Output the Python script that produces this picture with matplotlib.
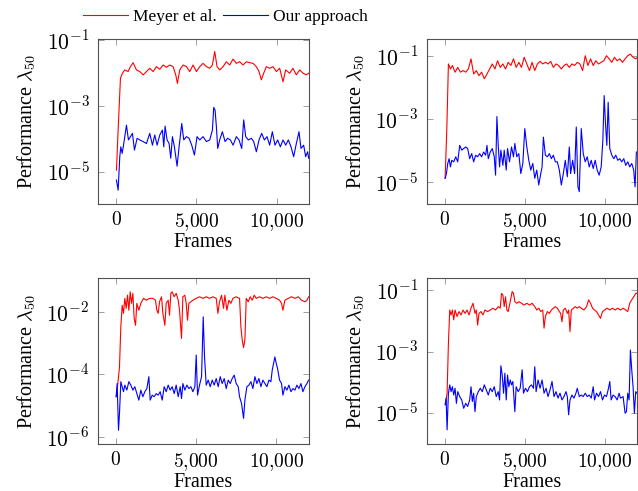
import numpy as np
import matplotlib.pyplot as plt
from matplotlib.lines import Line2D

plt.rcParams['font.family'] = 'serif'
plt.rcParams['font.serif'] = ['Liberation Serif', 'DejaVu Serif']
plt.rcParams['mathtext.fontset'] = 'cm'

# values: frame index and log10 of lambda_50

# --- panel 1 (top left)
f_meyer1 = [21, 125, 270, 394, 540, 747, 893, 1059, 1266, 1474, 1682, 1889, 2097, 2304, 2512, 2720,
            2927, 3135, 3342, 3550, 3716, 3820, 3965, 4173, 4380, 4588, 4796, 5003, 5211, 5418, 5626,
            5834, 6000, 6145, 6290, 6456, 6664, 6872, 7079, 7287, 7494, 7702, 7910, 8117, 8325, 8532,
            8740, 8906, 9051, 9197, 9363, 9570, 9778, 9986, 10193, 10401, 10567, 10816, 11023, 11231,
            11439, 11646, 11854, 12000]
l_meyer1 = [-4.95, -3.73, -2.15, -2.0, -1.9, -1.95, -1.80, -1.68, -1.90, -1.95, -2.05, -1.95, -1.85,
            -1.95, -1.80, -1.88, -1.75, -1.82, -1.75, -1.80, -2.05, -2.31, -1.90, -1.75, -1.80, -1.95,
            -1.75, -1.95, -1.80, -1.70, -1.80, -1.85, -1.75, -1.34, -1.80, -1.90, -1.80, -1.65, -1.75,
            -1.57, -1.70, -1.65, -1.75, -1.65, -1.68, -1.70, -1.80, -1.95, -2.20, -2.0, -1.80, -1.85,
            -1.80, -1.95, -1.85, -2.26, -1.90, -2.0, -1.85, -2.05, -1.90, -2.0, -2.05, -2.0]
f_ours1 = [21, 125, 228, 291, 374, 477, 644, 768, 893, 1017, 1142, 1308, 1474, 1682, 1889, 2097, 2263,
           2408, 2554, 2720, 2886, 2969, 3052, 3176, 3301, 3405, 3508, 3633, 3799, 3924, 4090, 4214,
           4380, 4546, 4713, 4879, 5045, 5211, 5418, 5626, 5834, 6000, 6083, 6166, 6249, 6332, 6456,
           6622, 6789, 6955, 7121, 7287, 7494, 7660, 7827, 7951, 8076, 8242, 8429, 8574, 8740, 8906,
           9072, 9238, 9404, 9570, 9736, 9902, 10068, 10235, 10401, 10567, 10733, 10899, 11065, 11231,
           11397, 11522, 11688, 11812, 11937, 12000]
l_ours1 = [-5.25, -5.56, -4.54, -4.24, -4.44, -4.14, -3.58, -4.03, -3.93, -3.83, -4.34, -3.98, -4.03,
           -4.08, -4.14, -3.83, -4.19, -3.88, -4.19, -3.88, -3.73, -4.24, -3.61, -4.03, -4.14, -4.59,
           -3.93, -4.24, -4.83, -4.24, -3.53, -4.03, -3.93, -3.98, -4.19, -4.49, -3.93, -4.03, -3.93,
           -4.08, -4.03, -3.73, -3.04, -3.12, -3.63, -4.29, -4.03, -3.78, -4.08, -3.98, -4.03, -4.19,
           -3.93, -4.03, -4.29, -3.42, -3.93, -4.03, -3.98, -4.08, -4.39, -4.03, -3.83, -4.03, -3.93,
           -4.19, -3.78, -4.19, -4.03, -4.24, -4.03, -4.19, -4.03, -4.24, -4.54, -4.14, -3.78, -4.29,
           -4.19, -4.54, -4.39, -4.59]

# --- panel 2 (top right)
f_meyer2 = [21, 125, 228, 353, 477, 644, 810, 976, 1142, 1308, 1474, 1640, 1806, 1972, 2138, 2304,
            2470, 2637, 2803, 2969, 3135, 3301, 3467, 3633, 3799, 3965, 4131, 4297, 4463, 4629, 4796,
            4962, 5128, 5294, 5460, 5626, 5792, 5958, 6124, 6290, 6456, 6622, 6789, 6955, 7121, 7287,
            7453, 7619, 7785, 7951, 8117, 8283, 8449, 8615, 8781, 8948, 9114, 9280, 9446, 9612, 9778,
            9944, 10110, 10276, 10442, 10608, 10774, 10941, 11107, 11273, 11439, 11605, 11771, 11937,
            12000]
l_meyer2 = [-4.87, -3.36, -1.26, -1.42, -1.31, -1.52, -1.37, -1.52, -1.47, -1.52, -1.42, -1.10, -1.58,
            -1.47, -1.63, -1.52, -1.73, -1.58, -1.42, -1.26, -1.42, -1.16, -1.37, -1.26, -1.42, -1.21,
            -1.31, -1.10, -1.37, -1.21, -1.37, -1.05, -1.26, -1.47, -1.21, -1.47, -1.26, -1.18, -1.26,
            -1.21, -1.26, -1.18, -1.37, -1.26, -1.31, -1.42, -1.31, -1.26, -1.37, -1.26, -1.31, -1.21,
            -1.26, -1.47, -1.0, -1.31, -1.10, -1.31, -1.16, -1.26, -1.21, -1.16, -1.0, -1.10, -1.21,
            -1.05, -1.16, -1.10, -1.21, -1.10, -1.0, -0.95, -1.05, -1.10, -1.07]
f_ours2 = [21, 104, 187, 270, 353, 436, 560, 685, 810, 934, 1059, 1183, 1308, 1433, 1557, 1682, 1806,
           1931, 2055, 2180, 2304, 2429, 2554, 2637, 2720, 2844, 2969, 3094, 3176, 3259, 3342, 3425,
           3508, 3633, 3716, 3841, 3924, 4048, 4173, 4297, 4380, 4505, 4629, 4754, 4879, 5003, 5128,
           5253, 5377, 5502, 5626, 5751, 5875, 6000, 6083, 6166, 6290, 6415, 6539, 6664, 6789, 6913,
           7038, 7162, 7287, 7411, 7536, 7660, 7785, 7868, 7993, 8117, 8221, 8325, 8408, 8532, 8657,
           8781, 8906, 9031, 9155, 9280, 9404, 9529, 9653, 9778, 9882, 9965, 10048, 10131, 10214,
           10317, 10442, 10567, 10691, 10816, 10941, 11065, 11190, 11314, 11439, 11563, 11688, 11812,
           11895, 11978]
l_ours2 = [-4.87, -4.72, -4.40, -4.25, -4.51, -4.30, -4.35, -4.19, -4.35, -3.83, -3.98, -3.93, -3.88,
           -3.93, -4.25, -4.09, -4.35, -4.14, -4.19, -4.09, -4.19, -4.04, -4.14, -3.83, -4.25, -4.04,
           -3.93, -4.19, -4.77, -2.92, -3.83, -4.51, -3.98, -4.46, -3.98, -4.61, -3.93, -4.35, -3.88,
           -4.19, -3.77, -4.19, -4.09, -4.72, -4.40, -3.30, -3.88, -4.30, -4.61, -4.40, -4.87, -4.61,
           -5.08, -4.72, -4.51, -3.57, -4.14, -4.19, -4.09, -4.25, -4.14, -4.35, -4.35, -4.61, -5.08,
           -4.72, -4.30, -4.82, -3.88, -4.72, -4.30, -4.72, -3.25, -5.14, -5.29, -3.30, -4.09, -4.35,
           -4.19, -4.51, -4.30, -4.56, -4.30, -4.61, -4.77, -4.51, -3.67, -2.26, -3.15, -3.83, -2.47,
           -3.93, -4.14, -4.25, -4.14, -4.30, -4.25, -4.35, -4.25, -4.46, -4.35, -4.51, -4.40, -4.61,
           -5.14, -4.04]

# --- panel 3 (bottom left)
f_meyer3 = [21, 125, 228, 311, 394, 477, 560, 644, 727, 810, 893, 976, 1059, 1142, 1225, 1308, 1432,
            1557, 1723, 1889, 2097, 2304, 2470, 2554, 2637, 2720, 2844, 2927, 3052, 3135, 3259, 3342,
            3425, 3508, 3633, 3757, 3882, 3965, 4090, 4173, 4297, 4380, 4463, 4546, 4671, 4796, 5003,
            5211, 5418, 5626, 5834, 6041, 6249, 6353, 6456, 6581, 6705, 6789, 6913, 7038, 7162, 7287,
            7494, 7702, 7785, 7868, 7951, 8034, 8117, 8242, 8366, 8491, 8615, 8740, 8948, 9155, 9363,
            9570, 9778, 9986, 10193, 10317, 10401, 10525, 10733, 10941, 11148, 11356, 11563, 11771,
            11896, 12000]
l_meyer3 = [-4.71, -4.29, -3.76, -2.48, -1.79, -2.05, -1.57, -1.89, -1.47, -1.95, -1.36, -1.73, -1.41,
            -2.21, -2.43, -1.73, -1.95, -1.73, -1.57, -1.63, -1.57, -1.57, -1.63, -1.95, -2.05, -1.68,
            -1.52, -2.05, -2.43, -1.73, -1.63, -2.11, -1.41, -1.36, -1.52, -1.41, -1.63, -1.95, -2.85,
            -1.52, -1.47, -1.73, -2.27, -1.73, -1.68, -1.63, -1.57, -1.52, -1.57, -1.52, -1.57, -1.52,
            -1.57, -2.05, -1.68, -1.47, -1.89, -1.47, -1.95, -1.63, -1.73, -1.57, -1.52, -1.57, -2.48,
            -2.90, -3.14, -2.90, -1.57, -1.68, -1.52, -1.63, -1.47, -1.57, -1.52, -1.57, -1.52, -1.57,
            -1.52, -1.57, -1.63, -1.73, -1.95, -1.63, -1.57, -1.52, -1.57, -1.52, -1.63, -1.68, -1.63,
            -1.52]
f_ours3 = [21, 83, 166, 228, 311, 394, 477, 560, 685, 810, 934, 1059, 1183, 1308, 1432, 1557, 1682,
           1806, 1931, 2055, 2138, 2263, 2387, 2512, 2637, 2761, 2886, 3010, 3135, 3259, 3384, 3508,
           3633, 3757, 3882, 4007, 4090, 4173, 4297, 4421, 4546, 4671, 4796, 4920, 5003, 5086, 5211,
           5336, 5439, 5522, 5626, 5751, 5875, 6000, 6124, 6249, 6373, 6498, 6622, 6747, 6872, 6996,
           7121, 7245, 7370, 7494, 7619, 7702, 7827, 7951, 8034, 8159, 8283, 8408, 8532, 8657, 8781,
           8906, 9031, 9155, 9280, 9404, 9529, 9653, 9736, 9819, 9902, 9986, 10068, 10193, 10317,
           10401, 10525, 10650, 10774, 10899, 11023, 11148, 11273, 11397, 11522, 11646, 11771, 11896,
           12000]
l_ours3 = [-4.71, -4.29, -5.78, -5.24, -4.23, -4.39, -4.55, -4.34, -4.50, -4.23, -4.34, -4.50, -4.39,
           -4.61, -4.82, -4.50, -4.71, -4.55, -4.45, -4.07, -4.82, -4.66, -4.71, -4.61, -4.66, -4.55,
           -4.82, -4.39, -4.55, -4.34, -4.50, -4.39, -4.61, -4.34, -4.71, -4.39, -4.77, -4.29, -4.50,
           -4.34, -4.45, -4.39, -4.55, -4.39, -3.38, -4.66, -4.34, -4.07, -2.16, -3.44, -4.34, -4.18,
           -4.39, -4.18, -4.34, -4.13, -4.39, -4.07, -4.29, -4.13, -4.45, -4.18, -4.29, -4.13, -4.02,
           -4.29, -4.39, -4.71, -4.93, -5.40, -4.82, -4.39, -4.34, -4.23, -4.45, -4.07, -4.29, -4.13,
           -4.39, -4.18, -4.29, -4.39, -4.18, -4.23, -3.86, -3.65, -3.44, -3.65, -3.81, -4.18, -4.29,
           -4.66, -4.39, -4.50, -4.34, -4.55, -4.45, -4.50, -4.34, -4.45, -4.29, -4.55, -4.39, -4.29,
           -4.18]

# --- panel 4 (bottom right)
f_meyer4 = [62, 145, 228, 311, 394, 477, 560, 644, 768, 893, 1017, 1142, 1266, 1391, 1516, 1640, 1765,
            1889, 1972, 2055, 2138, 2263, 2387, 2512, 2678, 2844, 3010, 3176, 3342, 3467, 3550, 3633,
            3716, 3799, 3882, 3965, 4090, 4214, 4297, 4380, 4505, 4629, 4796, 4962, 5128, 5294, 5460,
            5626, 5751, 5875, 6000, 6124, 6207, 6290, 6415, 6539, 6664, 6789, 6913, 7038, 7162, 7245,
            7328, 7411, 7536, 7660, 7743, 7827, 7910, 8034, 8159, 8283, 8408, 8532, 8698, 8865, 8989,
            9114, 9238, 9363, 9487, 9612, 9736, 9861, 9986, 10152, 10317, 10484, 10650, 10816, 10982,
            11148, 11314, 11439, 11563, 11688, 11812, 11937, 12000]
l_meyer4 = [-4.68, -4.35, -2.73, -1.65, -1.81, -1.65, -1.97, -1.65, -1.86, -1.70, -1.81, -1.65, -1.76,
            -1.65, -1.81, -1.59, -1.43, -1.76, -1.65, -2.14, -1.76, -1.70, -1.81, -1.65, -1.70, -1.65,
            -1.59, -1.65, -1.54, -1.59, -1.11, -1.16, -1.54, -1.22, -1.65, -1.70, -1.38, -1.05, -1.11,
            -1.38, -1.43, -1.38, -1.43, -1.49, -1.43, -1.49, -1.43, -1.54, -1.65, -1.59, -1.70, -1.65,
            -2.24, -1.86, -1.70, -1.76, -1.65, -1.59, -1.54, -1.59, -1.70, -1.76, -2.03, -1.65, -1.59,
            -1.76, -1.65, -2.35, -1.65, -1.59, -1.54, -1.59, -1.54, -1.59, -1.65, -1.54, -1.32, -1.43,
            -1.59, -1.65, -1.70, -1.81, -1.92, -1.70, -1.65, -1.59, -1.65, -1.59, -1.65, -1.59, -1.65,
            -1.59, -1.65, -1.70, -1.43, -1.32, -1.22, -1.11, -1.11]
f_ours4 = [21, 83, 145, 228, 311, 394, 477, 560, 644, 727, 810, 934, 1059, 1183, 1308, 1432, 1557,
           1640, 1723, 1806, 1889, 1972, 2097, 2221, 2346, 2470, 2595, 2720, 2844, 2969, 3094, 3218,
           3342, 3425, 3508, 3591, 3674, 3757, 3841, 3924, 4007, 4090, 4173, 4256, 4380, 4463, 4588,
           4713, 4837, 4920, 5045, 5170, 5294, 5419, 5543, 5626, 5709, 5834, 5958, 6083, 6207, 6332,
           6456, 6581, 6705, 6830, 6955, 7079, 7204, 7328, 7453, 7577, 7660, 7743, 7827, 7951, 8076,
           8200, 8283, 8408, 8532, 8657, 8781, 8906, 9031, 9155, 9280, 9363, 9487, 9612, 9736, 9861,
           9986, 10110, 10235, 10317, 10401, 10525, 10650, 10774, 10899, 10982, 11148, 11273, 11356,
           11439, 11522, 11605, 11688, 11771, 11854, 11937, 12000]
l_ours4 = [-4.73, -4.51, -5.54, -4.35, -4.08, -4.30, -4.14, -4.41, -4.19, -4.68, -4.30, -4.46, -4.57,
           -4.84, -4.68, -4.78, -4.57, -4.14, -4.62, -4.35, -4.95, -4.46, -4.30, -4.19, -4.30, -4.08,
           -4.24, -4.41, -4.19, -4.30, -4.14, -4.46, -4.30, -4.57, -3.46, -3.76, -4.35, -3.70, -4.57,
           -3.76, -4.14, -3.92, -4.08, -3.97, -4.95, -4.14, -4.30, -4.19, -3.59, -4.35, -4.19, -4.30,
           -4.14, -4.08, -4.19, -3.49, -4.30, -3.92, -4.19, -3.92, -4.35, -4.19, -4.46, -4.24, -3.97,
           -4.46, -4.30, -4.51, -4.35, -4.57, -4.46, -4.30, -4.46, -5.05, -4.57, -4.41, -4.51, -4.35,
           -4.19, -4.46, -4.41, -4.46, -4.35, -4.46, -4.41, -4.51, -4.14, -4.57, -4.35, -4.46, -4.30,
           -4.57, -4.41, -4.46, -4.19, -3.97, -4.57, -4.41, -4.46, -4.57, -4.35, -4.51, -4.46, -5.00,
           -4.95, -4.35, -4.57, -2.95, -3.59, -4.14, -5.00, -4.30, -4.35]

x_ticks = [0, 5000, 10000]
x_ticklabels = ['$0$', '$5{,}000$', '$10{,}000$']
y_ticks = [[-1, -3, -5], [-1, -3, -5], [-2, -4, -6], [-1, -3, -5]]
y_limits = [(-5.98, -0.96), (-5.68, -0.475), (-6.22, -0.93), (-6.0, -0.62)]

panels = [(f_meyer1, l_meyer1, f_ours1, l_ours1),
          (f_meyer2, l_meyer2, f_ours2, l_ours2),
          (f_meyer3, l_meyer3, f_ours3, l_ours3),
          (f_meyer4, l_meyer4, f_ours4, l_ours4)]

boxes = [[0.1536, 0.5845, 0.3302, 0.3360],
         [0.6688, 0.5845, 0.3292, 0.3360],
         [0.1531, 0.0957, 0.3306, 0.3375],
         [0.6688, 0.0957, 0.3292, 0.3375]]

fig = plt.figure(figsize=(6.38, 4.91), dpi=100)

for i, (fm, lm, fo, lo) in enumerate(panels):
    ax = fig.add_axes(boxes[i])
    ax.plot(fm, 10.0 ** np.array(lm), color='red', lw=0.8)
    ax.plot(fo, 10.0 ** np.array(lo), color='blue', lw=0.8)
    ax.set_yscale('log')
    ax.set_xlim(-1130, 12000)
    ax.set_ylim(10.0 ** y_limits[i][0], 10.0 ** y_limits[i][1])
    ax.set_xticks(x_ticks)
    ax.set_xticklabels(x_ticklabels)
    ax.set_yticks([10.0 ** e for e in y_ticks[i]])
    ax.set_yticklabels(['$10^{%d}$' % e for e in y_ticks[i]])
    ax.minorticks_off()
    ax.tick_params(direction='in', top=True, right=True, length=4, width=0.6,
                   color='#909090', labelsize=14, pad=5)
    ax.tick_params(axis='y', labelsize=15.5, pad=6)
    for s in ax.spines.values():
        s.set_color('#505050')
        s.set_linewidth(0.8)
    ax.set_xlabel('Frames', fontsize=14.5, labelpad=0)
    ax.set_ylabel(r'Performance $\lambda_{50}$', fontsize=14.5, labelpad=6)

handles = [Line2D([], [], color='red', lw=0.8), Line2D([], [], color='blue', lw=0.8)]
fig.legend(handles, ['Meyer et al.', 'Our approach'], loc='center', bbox_to_anchor=(0.353, 0.965),
           ncol=2, frameon=False, fontsize=12.5, handlelength=2.6, handletextpad=0.3,
           columnspacing=0.35, borderpad=0)

fig.savefig('out.png', dpi=100)
